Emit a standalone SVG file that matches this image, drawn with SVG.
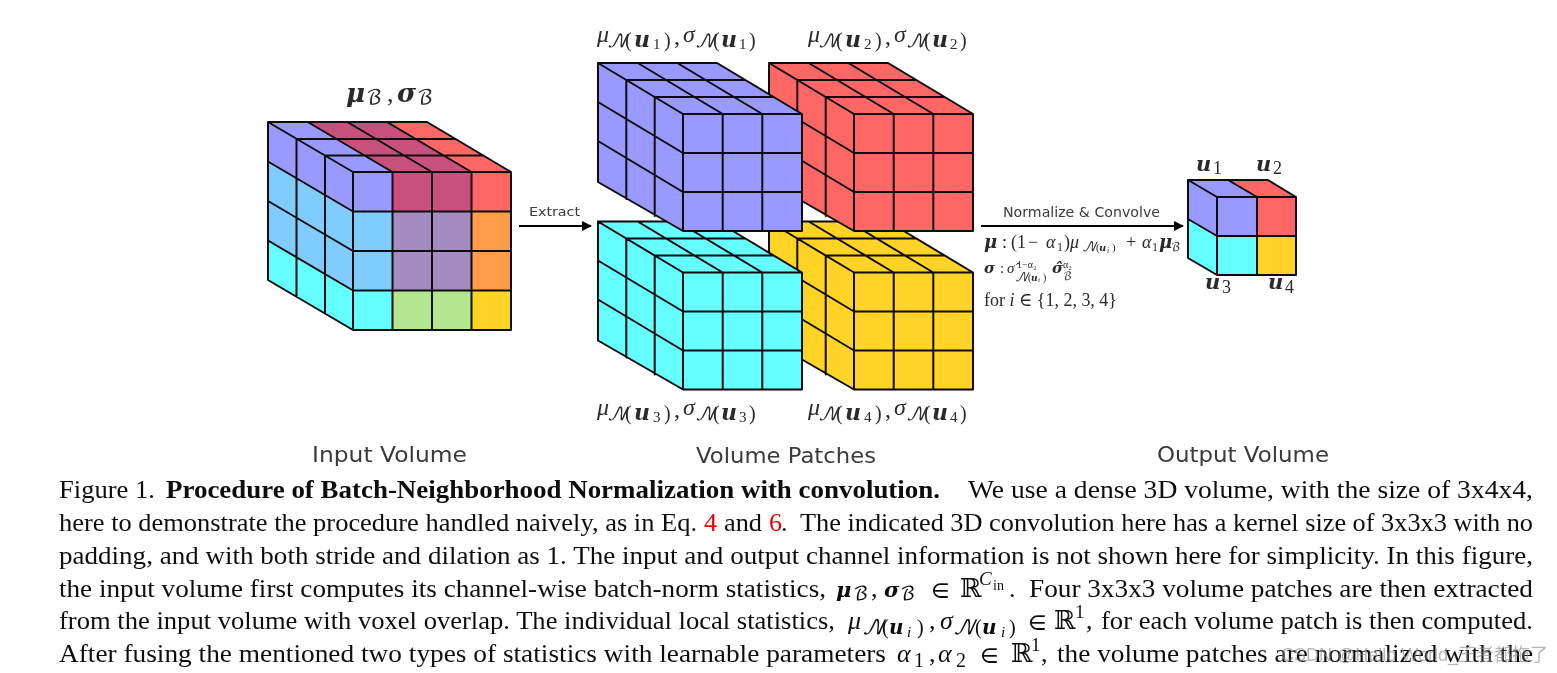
<svg xmlns="http://www.w3.org/2000/svg" width="1557" height="673" viewBox="0 0 1557 673">
<style>
.g{stroke:#0c0c0c;stroke-width:2;fill:none;stroke-linecap:round;stroke-linejoin:round}
.lab{font-family:"DejaVu Sans",sans-serif;fill:#3a3a3a}
.m{font-family:"Liberation Serif","DejaVu Serif",serif;fill:#2a2a2a}
.i{font-style:italic}
.b{font-weight:bold}
.u{font-family:"DejaVu Serif",serif;font-weight:bold;font-style:italic}
.c{font-family:"Liberation Serif",serif;font-size:26px;fill:#111}
.s{font-family:"DejaVu Math TeX Gyre","DejaVu Serif",serif}
.conn{stroke:#000;stroke-width:2;fill:none}
.wm{font-family:"Liberation Sans","Noto Sans CJK SC",sans-serif;font-size:18px;fill:#888;opacity:.6}
</style>
<defs>
<filter id="soft" filterUnits="userSpaceOnUse" x="0" y="0" width="1557" height="673"><feGaussianBlur stdDeviation="0.5"/></filter>
<filter id="softer" filterUnits="userSpaceOnUse" x="0" y="0" width="1557" height="673"><feGaussianBlur stdDeviation="0.3"/></filter>
<marker id="ah" viewBox="0 0 10 10" refX="9" refY="5" markerWidth="5" markerHeight="5" orient="auto"><path d="M0 0L10 5L0 10Z" fill="#000"/></marker>
<g id="patch">
<path fill="currentColor" stroke="none" d="M0 0H119L204 51V168H85L0 119Z"/>
<path class="g" d="M0 0H119L204 51V168H85L0 119ZM85 51H204M85 51V168M0 0L85 51
M39.700 0L124.700 51M79.300 0L164.300 51M28.300 17H147.300M56.700 34H175.700
M28.300 17V136M56.700 34V153
M124.700 51V168M164.300 51V168M85 90H204M85 129H204M0 39L85 90M0 78L85 129"/>
</g>
</defs>

<g filter="url(#soft)">
<g id="connectors">
<path class="conn" marker-end="url(#ah)" d="M519 226H591"/>
<path class="conn" marker-end="url(#ah)" d="M981 226H1183"/>
</g>

<g id="input-volume">
<path fill="#9999ff" d="M268 122L353 172V211L268 161Z"/>
<path fill="#80ccff" d="M268 161L353 211V290L268 240Z"/>
<path fill="#66ffff" d="M268 240L353 290V330L268 280Z"/>
<path fill="#9999ff" d="M268 122H308L393 172H353Z"/>
<path fill="#c94f7d" d="M308 122H387L472 172H393Z"/>
<path fill="#ff6666" d="M387 122H427L511 172H472Z"/>
<rect x="353" y="172" width="40" height="39" fill="#9999ff"/>
<rect x="393" y="172" width="79" height="39" fill="#c94f7d"/>
<rect x="472" y="172" width="39" height="39" fill="#ff6666"/>
<rect x="353" y="211" width="40" height="79" fill="#80ccff"/>
<rect x="393" y="211" width="79" height="79" fill="#a58cc0"/>
<rect x="472" y="211" width="39" height="79" fill="#ff9c4a"/>
<rect x="353" y="290" width="40" height="40" fill="#66ffff"/>
<rect x="393" y="290" width="79" height="40" fill="#b3e68f"/>
<rect x="472" y="290" width="39" height="40" fill="#ffd427"/>
<path class="g" d="M268 122H427L511 172V330H353L268 280ZM353 172H511M353 172V330M268 122L353 172
M307.700 122L392.500 172M347.300 122L432 172M387 122L471.500 172
M296.500 139H455.500M325 155.500H483.500
M296.500 139V297M325 155.500V313.500
M392.500 172V330M432 172V330M471.500 172V330
M353 211.500H511M353 251H511M353 290.500H511
M268 161.500L353 211.500M268 201L353 251M268 240.500L353 290.500"/>
<text class="m" y="102"><tspan class="u" x="346" font-size="26">μ</tspan><tspan class="s" x="366" y="104" font-size="20">ℬ</tspan><tspan x="387" y="102" font-size="26">,</tspan><tspan class="u" x="397" font-size="26">σ</tspan><tspan class="s" x="417" y="104" font-size="20">ℬ</tspan></text>
<text class="lab" x="312" y="462" font-size="21" textLength="155" lengthAdjust="spacingAndGlyphs">Input Volume</text>
<text class="lab" x="529" y="216" font-size="13" textLength="51" lengthAdjust="spacingAndGlyphs">Extract</text>
</g>

<g id="patch-4" color="#ffd427" transform="translate(769 221.500)"><use href="#patch"/></g>
<g id="patch-3" color="#66ffff" transform="translate(598 221.500)"><use href="#patch"/></g>
<g id="patch-2" color="#ff6666" transform="translate(769 63)"><use href="#patch"/></g>
<g id="patch-1" color="#9999ff" transform="translate(598 63)"><use href="#patch"/></g>

<g id="patch-labels">
<text class="m" font-size="24" y="42"><tspan class="i" x="597">μ</tspan><tspan class="s i" x="607" y="47" font-size="18">𝒩</tspan><tspan x="625" font-size="20">(</tspan><tspan class="u" x="634" font-size="22">u</tspan><tspan x="653" y="49" font-size="15">1</tspan><tspan x="664" y="47" font-size="20">)</tspan><tspan x="674" y="44">,</tspan><tspan class="i" x="683" y="42">σ</tspan><tspan class="s i" x="695" y="47" font-size="18">𝒩</tspan><tspan x="713" font-size="20">(</tspan><tspan class="u" x="721" font-size="22">u</tspan><tspan x="739" y="49" font-size="15">1</tspan><tspan x="749" y="47" font-size="20">)</tspan></text>
<text class="m" font-size="24" y="42"><tspan class="i" x="808">μ</tspan><tspan class="s i" x="818" y="47" font-size="18">𝒩</tspan><tspan x="836" font-size="20">(</tspan><tspan class="u" x="845" font-size="22">u</tspan><tspan x="864" y="49" font-size="15">2</tspan><tspan x="875" y="47" font-size="20">)</tspan><tspan x="885" y="44">,</tspan><tspan class="i" x="894" y="42">σ</tspan><tspan class="s i" x="906" y="47" font-size="18">𝒩</tspan><tspan x="924" font-size="20">(</tspan><tspan class="u" x="932" font-size="22">u</tspan><tspan x="950" y="49" font-size="15">2</tspan><tspan x="960" y="47" font-size="20">)</tspan></text>
<text class="m" font-size="24" y="415"><tspan class="i" x="597">μ</tspan><tspan class="s i" x="607" y="420" font-size="18">𝒩</tspan><tspan x="625" font-size="20">(</tspan><tspan class="u" x="634" font-size="22">u</tspan><tspan x="653" y="422" font-size="15">3</tspan><tspan x="664" y="420" font-size="20">)</tspan><tspan x="674" y="417">,</tspan><tspan class="i" x="683" y="415">σ</tspan><tspan class="s i" x="695" y="420" font-size="18">𝒩</tspan><tspan x="713" font-size="20">(</tspan><tspan class="u" x="721" font-size="22">u</tspan><tspan x="739" y="422" font-size="15">3</tspan><tspan x="749" y="420" font-size="20">)</tspan></text>
<text class="m" font-size="24" y="415"><tspan class="i" x="808">μ</tspan><tspan class="s i" x="818" y="420" font-size="18">𝒩</tspan><tspan x="836" font-size="20">(</tspan><tspan class="u" x="845" font-size="22">u</tspan><tspan x="864" y="422" font-size="15">4</tspan><tspan x="875" y="420" font-size="20">)</tspan><tspan x="885" y="417">,</tspan><tspan class="i" x="894" y="415">σ</tspan><tspan class="s i" x="906" y="420" font-size="18">𝒩</tspan><tspan x="924" font-size="20">(</tspan><tspan class="u" x="932" font-size="22">u</tspan><tspan x="950" y="422" font-size="15">4</tspan><tspan x="960" y="420" font-size="20">)</tspan></text>
<text class="lab" x="696" y="463" font-size="21" textLength="180" lengthAdjust="spacingAndGlyphs">Volume Patches</text>
</g>

<g id="operation-labels">
<text class="lab" x="1003" y="217" font-size="13.500" textLength="157" lengthAdjust="spacingAndGlyphs">Normalize &amp; Convolve</text>
<text class="m" font-size="18" y="248"><tspan class="u" x="984">μ</tspan><tspan x="1002">:</tspan><tspan x="1011">(1</tspan><tspan x="1028">−</tspan><tspan class="i" x="1046">α</tspan><tspan x="1057" y="251" font-size="12">1</tspan><tspan x="1064" y="248">)</tspan><tspan class="i" x="1070">μ</tspan><tspan class="s i" x="1082" y="251" font-size="13">𝒩</tspan><tspan x="1096" font-size="11">(</tspan><tspan class="u" x="1099" font-size="10">u</tspan><tspan class="i" x="1107" font-size="8" y="253">i</tspan><tspan x="1112" y="251" font-size="11">)</tspan><tspan x="1126" y="248">+</tspan><tspan class="i" x="1142">α</tspan><tspan x="1152" y="251" font-size="12">1</tspan><tspan class="u" x="1159" y="248">μ</tspan><tspan class="s" x="1171" y="251" font-size="12">ℬ</tspan></text>
<text class="m" font-size="15" y="273"><tspan class="u" x="984">σ</tspan><tspan x="1000">:</tspan><tspan class="i" x="1007">σ̂</tspan><tspan x="1017" y="268" font-size="10">1−α₂</tspan><tspan class="s i" x="1015" y="281" font-size="12">𝒩</tspan><tspan x="1028" font-size="10">(</tspan><tspan class="u" x="1031" font-size="9">u</tspan><tspan class="i" x="1038" font-size="7" y="282">i</tspan><tspan x="1043" y="281" font-size="10">)</tspan><tspan class="u" x="1052" y="273">σ̂</tspan><tspan x="1063" y="268" font-size="10">α₂</tspan><tspan class="s" x="1063" y="280" font-size="11">ℬ</tspan></text>
<text class="m" font-size="19" x="984" y="306" textLength="133" lengthAdjust="spacingAndGlyphs">for <tspan class="i">i</tspan> ∈ {1, 2, 3, 4}</text>
</g>

<g id="output-volume">
<path fill="#9999ff" d="M1188 180L1217 197V236L1188 219ZM1188 180H1228L1257 197H1217Z"/>
<path fill="#66ffff" d="M1188 219L1217 236V275L1188 258Z"/>
<path fill="#ff6666" d="M1228 180H1268L1296 197H1257Z"/>
<rect x="1217" y="197" width="40" height="39" fill="#9999ff"/>
<rect x="1257" y="197" width="39" height="39" fill="#ff6666"/>
<rect x="1217" y="236" width="40" height="39" fill="#66ffff"/>
<rect x="1257" y="236" width="39" height="39" fill="#ffd427"/>
<path class="g" d="M1188 180H1268L1296 197V275H1217L1188 258ZM1217 197H1296M1217 197V275M1188 180L1217 197M1228 180L1257 197M1257 197V275M1217 236H1296M1188 219L1217 236"/>
<text class="u m" x="1196" y="171" font-size="21">u</text><text class="m" x="1213" y="174" font-size="18">1</text>
<text class="u m" x="1256" y="171" font-size="21">u</text><text class="m" x="1273" y="174" font-size="18">2</text>
<text class="u m" x="1205" y="289" font-size="21">u</text><text class="m" x="1222" y="293" font-size="18">3</text>
<text class="u m" x="1268" y="289" font-size="21">u</text><text class="m" x="1285" y="293" font-size="18">4</text>
<text class="lab" x="1157" y="462" font-size="21" textLength="172" lengthAdjust="spacingAndGlyphs">Output Volume</text>
</g>
</g>

<g id="caption" filter="url(#softer)">
<text class="c" x="59" y="498" textLength="96" lengthAdjust="spacingAndGlyphs">Figure 1.</text>
<text class="c b" x="166" y="498" textLength="774" lengthAdjust="spacingAndGlyphs">Procedure of Batch-Neighborhood Normalization with convolution.</text>
<text class="c" x="968" y="498" textLength="565" lengthAdjust="spacingAndGlyphs">We use a dense 3D volume, with the size of 3x4x4,</text>
<text class="c" x="59" y="531" textLength="638" lengthAdjust="spacingAndGlyphs">here to demonstrate the procedure handled naively, as in Eq.</text>
<text class="c" x="704" y="531" style="fill:#e00">4</text>
<text class="c" x="724" y="531" textLength="38" lengthAdjust="spacingAndGlyphs">and</text>
<text class="c" x="769" y="531" style="fill:#e00">6</text>
<text class="c" x="781" y="531">.</text>
<text class="c" x="800" y="531" textLength="733" lengthAdjust="spacingAndGlyphs">The indicated 3D convolution here has a kernel size of 3x3x3 with no</text>
<text class="c" x="59" y="564" textLength="1474" lengthAdjust="spacingAndGlyphs">padding, and with both stride and dilation as 1. The input and output channel information is not shown here for simplicity. In this figure,</text>
<text class="c" x="59" y="597" textLength="767" lengthAdjust="spacingAndGlyphs">the input volume first computes its channel-wise batch-norm statistics,</text>
<text class="c" y="597"><tspan class="u" x="836" font-size="21">μ</tspan><tspan class="s" x="853" y="600" font-size="19">ℬ</tspan><tspan x="871" y="597">,</tspan><tspan class="u" x="884" font-size="21">σ</tspan><tspan class="s" x="900" y="600" font-size="19">ℬ</tspan><tspan class="s" x="931" y="597" font-size="23">∈</tspan><tspan class="s" x="959" y="597">ℝ</tspan><tspan class="i" x="979" y="585" font-size="19">C</tspan><tspan x="993" y="590" font-size="14">in</tspan><tspan x="1009" y="597">.</tspan></text>
<text class="c" x="1029" y="597" textLength="504" lengthAdjust="spacingAndGlyphs">Four 3x3x3 volume patches are then extracted</text>
<text class="c" x="59" y="629" textLength="776" lengthAdjust="spacingAndGlyphs">from the input volume with voxel overlap. The individual local statistics,</text>
<text class="c" y="629"><tspan class="i" x="848">μ</tspan><tspan class="s i" x="862" y="634" font-size="20">𝒩</tspan><tspan x="882" font-size="20">(</tspan><tspan class="u" x="889" font-size="20">u</tspan><tspan class="i" x="907" y="637" font-size="15">i</tspan><tspan x="917" y="634" font-size="20">)</tspan><tspan x="929" y="629">,</tspan><tspan class="i" x="940">σ</tspan><tspan class="s i" x="953" y="634" font-size="20">𝒩</tspan><tspan x="975" font-size="20">(</tspan><tspan class="u" x="982" font-size="20">u</tspan><tspan class="i" x="1001" y="637" font-size="15">i</tspan><tspan x="1009" y="634" font-size="20">)</tspan><tspan class="s" x="1028" y="629" font-size="23">∈</tspan><tspan class="s" x="1053">ℝ</tspan><tspan x="1075" y="618" font-size="19">1</tspan><tspan x="1086" y="629">,</tspan></text>
<text class="c" x="1101" y="629" textLength="432" lengthAdjust="spacingAndGlyphs">for each volume patch is then computed.</text>
<text class="c" x="59" y="662" textLength="827" lengthAdjust="spacingAndGlyphs">After fusing the mentioned two types of statistics with learnable parameters</text>
<text class="c" y="662"><tspan class="i" x="897">α</tspan><tspan x="914" y="667" font-size="20">1</tspan><tspan x="929" y="662">,</tspan><tspan class="i" x="938">α</tspan><tspan x="956" y="667" font-size="20">2</tspan><tspan class="s" x="980" y="662" font-size="23">∈</tspan><tspan class="s" x="1010">ℝ</tspan><tspan x="1031" y="651" font-size="19">1</tspan><tspan x="1041" y="662">,</tspan></text>
<text class="c" x="1057" y="662" textLength="476" lengthAdjust="spacingAndGlyphs">the volume patches are normalized with the</text>
<text class="wm" x="1281" y="661">CSDN @Hello World_王者都拖了</text>
</g>
</svg>
